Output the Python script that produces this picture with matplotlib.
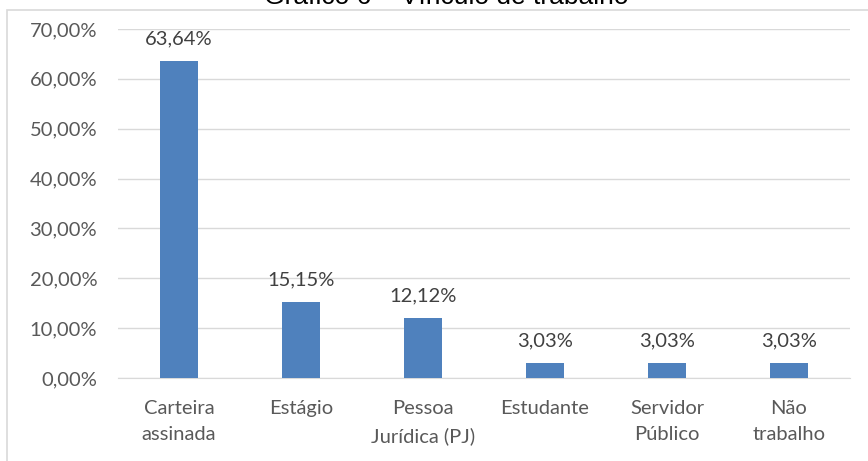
import numpy as np
import matplotlib.pyplot as plt
from matplotlib.patches import Rectangle

categorias = ["Carteira\nassinada", "Estágio", "Pessoa\nJurídica (PJ)", "Estudante", "Servidor\nPúblico", "Não\ntrabalho"]
valores = [63.64, 15.15, 12.12, 3.03, 3.03, 3.03]
titulo = "Gráfico 6 – Vínculo de trabalho"

cor_barra = '#4F81BD'
cor_texto = '#595959'

fig = plt.figure(figsize=(8.68, 4.61), dpi=100)
fig.patch.set_facecolor('white')

# moldura do gráfico (lado direito e base ficam fora da imagem)
W, H = 868, 461
fig.patches.append(Rectangle((7 / W, -0.1), 1.0, 1 - 10 / H + 0.1, transform=fig.transFigure,
                             fill=False, edgecolor='#D9D9D9', linewidth=1.2))

ax = fig.add_axes([118 / W, 83 / H, (850 - 118) / W, (378 - 29) / H])
x = np.arange(len(categorias))
bars = ax.bar(x, valores, width=0.31, color=cor_barra, zorder=3)

ax.set_xlim(-0.5, len(categorias) - 0.5)
ax.set_ylim(0, 70)
ax.set_yticks(np.arange(0, 71, 10))
ax.set_yticklabels(["{:.2f}%".format(v).replace('.', ',') for v in np.arange(0, 71, 10)])
ax.set_xticks(x)
ax.set_xticklabels(categorias, linespacing=1.65)

ax.grid(axis='y', color='#D9D9D9', linewidth=1.0, zorder=0)
for s in ['top', 'right', 'left']:
    ax.spines[s].set_visible(False)
ax.spines['bottom'].set_color('#D9D9D9')
ax.tick_params(axis='both', length=0, labelsize=14.5, labelcolor=cor_texto, labelfontfamily='Lato')
ax.tick_params(axis='y', pad=15)
ax.tick_params(axis='x', pad=16)

for b, v in zip(bars, valores):
    ax.annotate("{:.2f}%".format(v).replace('.', ','), (b.get_x() + b.get_width() / 2, v),
                xytext=(0, 12), textcoords='offset points', ha='center', va='baseline',
                fontsize=14.5, color='#404040', family='Lato')

fig.text(0.5 + 12 / W, 1 - 4 / H, titulo, ha='center', va='baseline', fontsize=19,
         family='Liberation Sans', color='black')

fig.savefig('out.png', dpi=100)
